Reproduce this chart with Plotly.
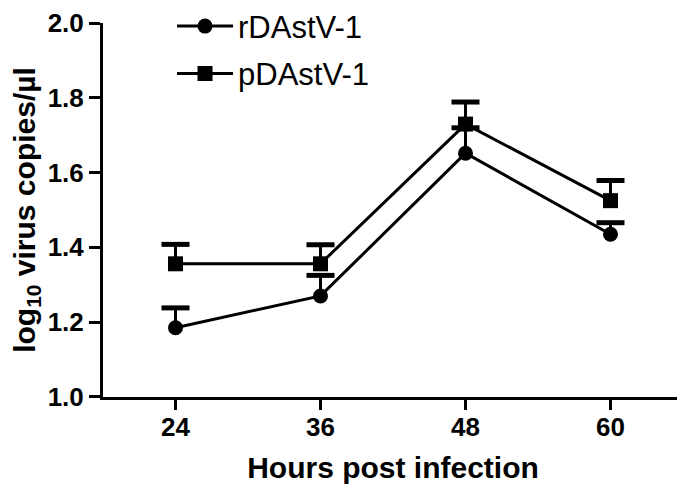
import plotly.graph_objects as go

hours = [24, 36, 48, 60]
tick_vals = [24, 36, 48, 60]
y_ticks = [1.0, 1.2, 1.4, 1.6, 1.8, 2.0]

r_name = "rDAstV-1"
r_mean = [1.185, 1.27, 1.652, 1.435]
r_err = [0.053, 0.055, 0.068, 0.031]

p_name = "pDAstV-1"
p_mean = [1.356, 1.356, 1.73, 1.525]
p_err = [0.052, 0.051, 0.059, 0.054]

FONT = "Liberation Sans"
fig = go.Figure()


def add_series(name, mean, err, symbol, group):
    # line + marker, with an upward-only error stem (no caps)
    fig.add_trace(go.Scatter(
        x=hours, y=mean, name=name, mode="lines+markers",
        legendgroup=group,
        line=dict(color="black", width=3),
        marker=dict(symbol=symbol, size=15, color="black"),
        error_y=dict(type="data", array=err, arrayminus=[0] * len(err),
                     symmetric=False, width=0, thickness=3, color="black"),
    ))
    # caps on top of the error bars
    fig.add_trace(go.Scatter(
        x=hours, y=[m + e for m, e in zip(mean, err)], mode="markers",
        showlegend=False, hoverinfo="skip",
        marker=dict(symbol="line-ew", size=20, color="black",
                    line=dict(color="black", width=5)),
    ))


add_series(r_name, r_mean, r_err, "circle", "r")
add_series(p_name, p_mean, p_err, "square", "p")

# page body adds an 8px offset, so the figure is 8px smaller than the window
fig.update_layout(
    width=677, height=481,
    margin=dict(l=95, r=2, t=15, b=92, autoexpand=False),
    plot_bgcolor="white", paper_bgcolor="white",
    font=dict(family=FONT, color="black"),
    legend=dict(
        x=0.119, y=1.063, xanchor="left", yanchor="top",
        bgcolor="rgba(0,0,0,0)", font=dict(family=FONT, size=31),
        itemwidth=56, tracegroupgap=4, traceorder="grouped",
    ),
    xaxis=dict(
        range=[18, 66], tickvals=tick_vals, ticktext=[str(v) for v in tick_vals],
        showline=True, linecolor="black", linewidth=3, mirror=False,
        ticks="outside", ticklen=10, tickwidth=3, tickcolor="black",
        showgrid=False, zeroline=False, ticklabelstandoff=-5,
        tickfont=dict(family=FONT, size=26, weight="bold"),
        title=dict(text="Hours post infection", standoff=16,
                   font=dict(family=FONT, size=30, weight="bold")),
    ),
    yaxis=dict(
        range=[0.9995, 2.0005], tickvals=y_ticks, tickformat=".1f",
        showline=True, linecolor="black", linewidth=3, mirror=False,
        ticks="outside", ticklen=11, tickwidth=3, tickcolor="black",
        showgrid=False, zeroline=False, ticklabeloverflow="allow",
        tickfont=dict(family=FONT, size=26, weight="bold"),
        title=dict(text="log<sub>10</sub> virus copies/µl", standoff=7,
                   font=dict(family=FONT, size=30, weight="bold")),
    ),
)

fig.write_html("out.html")
